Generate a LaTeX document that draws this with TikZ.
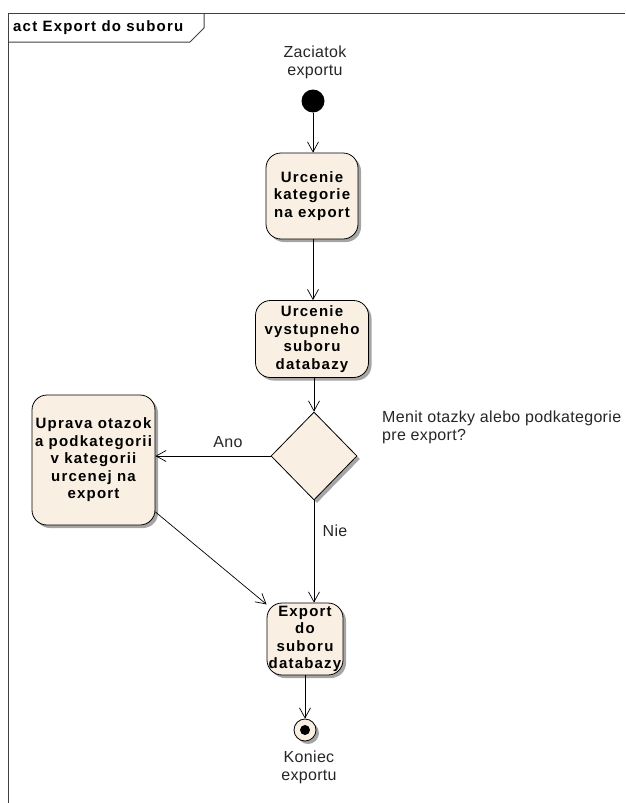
\documentclass[tikz,border=0pt]{standalone}
\usepackage{fontspec}
\setmainfont{Liberation Sans}
\newfontfamily\labelfont[LetterSpace=2]{Liberation Sans}
\newfontfamily\actfont[LetterSpace=8]{Liberation Sans}
\usetikzlibrary{arrows.meta,shapes.geometric,shadows}
\definecolor{actfill}{RGB}{249,240,227}
\definecolor{shade}{RGB}{165,165,165}
\begin{document}
\begin{tikzpicture}[x=1pt,y=-1pt,
  flow/.style={draw=black, line width=0.7pt, -{Straight Barb[length=10pt,width=11pt,line width=0.7pt]}},
  sh/.style={drop shadow={shadow xshift=3pt,shadow yshift=-3pt,fill=shade,opacity=1}},
  action/.style={draw=black, line width=0.8pt, fill=actfill, rounded corners=15pt, sh,
    align=center, font=\actfont\fontsize{15}{17.5}\selectfont\bfseries, inner sep=1pt},
  decision/.style={draw=black, line width=0.8pt, fill=actfill, diamond, sh,
    minimum width=86pt, minimum height=88pt, inner sep=0pt},
  lbl/.style={font=\labelfont\fontsize{16}{18}\selectfont, text=black!85, align=center},
  frameline/.style={draw=black!75, line width=1pt}]
\useasboundingbox (0,0) rectangle (625,803);

% diagram frame and title tab
\draw[frameline] (8,803) -- (8,13) -- (625,13);
\draw[frameline] (8,42) -- (190,42) -- (204,28) -- (204,13);
\node[font=\actfont\fontsize{15}{17}\selectfont\bfseries, anchor=west, inner sep=0pt] (title) at (13,28) {act Export do suboru};

% initial node
\node[circle, fill=black, minimum size=23pt, inner sep=0pt] (start) at (313,101) {};
\node[lbl] (startlbl) at (315,62) {Zaciatok\\exportu};

% actions
\node[action, minimum width=92pt, minimum height=86pt] (a1) at (312,196) {Urcenie\\kategorie\\na export};
\node[action, minimum width=113pt, minimum height=77pt] (a2) at (312,339) {Urcenie\\vystupneho\\suboru\\databazy};
\node[decision] (dec) at (314,456) {};
\node[lbl, align=left, anchor=north west, inner sep=0pt] (q) at (382,411) {Menit otazky alebo podkategorie\\pre export?};
\node[action, minimum width=123pt, minimum height=130pt] (a3) at (93.5,460) {Uprava otazok\\a podkategorii\\v kategorii\\urcenej na\\export};
\node[action, minimum width=76pt, minimum height=72pt, inner sep=0pt] (a4) at (305,639) {Export\\do\\suboru\\databazy};

% final node
\node[circle, draw=black, line width=0.8pt, fill=actfill, minimum size=22pt, inner sep=0pt, sh] (end) at (305,730) {};
\node[circle, fill=black, minimum size=10pt, inner sep=0pt] (enddot) at (end.center) {};
\node[lbl] (endlbl) at (309,767) {Koniec\\exportu};

% control flows
\draw[flow] (start) -- (start |- a1.north);
\draw[flow] (a1.south -| start) -- (start |- a2.north);
\draw[flow] (a2.south -| dec) -- (dec.north);
\draw[flow] (dec.west) -- (dec.west -| a3.east) node[lbl, pos=0.37, above=5pt] (ano) {Ano};
\draw[flow] (dec.south) -- (dec.south |- a4.north) node[lbl, pos=0.3, right=5pt] (nie) {Nie};
\draw[flow] (a3.-40) -- (a4.138);
\draw[flow] (a4.south) -- (end.north);
\end{tikzpicture}
\end{document}
